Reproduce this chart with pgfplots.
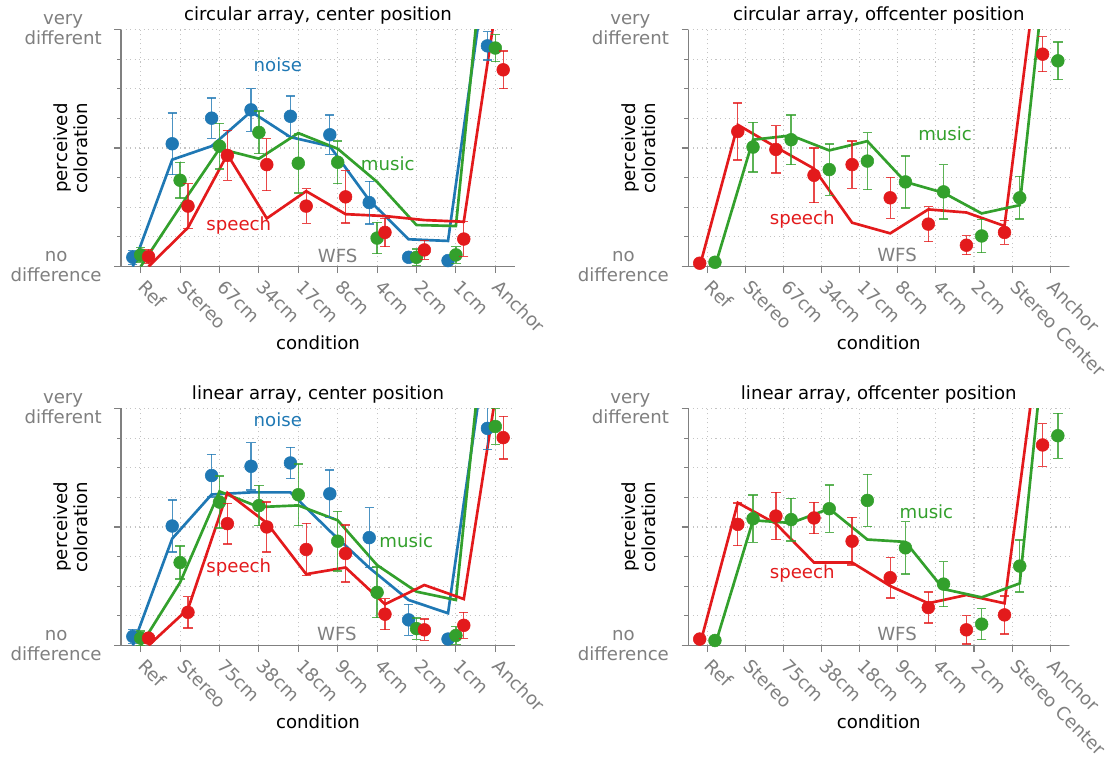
\documentclass[border=0pt]{standalone}
\usepackage{pgfplots}
\pgfplotsset{compat=1.18}
\usepackage{fontspec}
\setmainfont{DejaVu Sans}
\definecolor{cblue}{HTML}{1F78B4}
\definecolor{cgreen}{HTML}{33A02C}
\definecolor{cred}{HTML}{E31A1C}
\definecolor{axgray}{HTML}{808080}
\definecolor{txgray}{HTML}{7F7F7F}
\definecolor{grgray}{HTML}{C4C4C4}
\newcommand{\ff}{\fontsize{13.6pt}{15pt}\selectfont}
\pgfplotsset{
  panel/.style={
    scale only axis, height=177.75pt,
    xmin=-0.5, xmax=9.5, ymin=0, ymax=1,
    axis x line=bottom, axis y line=left,
    axis line style={-, draw=axgray, line width=1.1pt},
    xtick={0,...,9},
    ytick={0,0.5,1},
    minor ytick={0.125,0.25,0.375,0.625,0.75,0.875},
    yticklabels={{no\\difference},{},{very\\different}},
    grid=both,
    major grid style={dash pattern=on 0.8pt off 2.6pt, grgray, line width=0.8pt},
    minor grid style={dash pattern=on 0.8pt off 2.6pt, grgray, line width=0.8pt},
    tick align=outside, major tick length=5pt, minor tick length=3pt,
    every tick/.style={axgray, line width=0.8pt},
    tick label style={font=\ff, text=txgray},
    yticklabel style={align=center, xshift=-6pt},
    xticklabel style={rotate=-45, anchor=north west, xshift=2.9pt, yshift=3.9pt},
    xlabel={condition},
    xlabel style={font=\ff, at={(axis description cs:0.5,0)}, anchor=base, yshift=-62pt},
    ylabel={perceived\\coloration},
    ylabel style={font=\ff, align=center, at={(axis description cs:0,0.5)}, anchor=center, rotate=0, yshift=37.5pt},
    title style={font=\ff, at={(axis description cs:0.5,1)}, anchor=base, yshift=0.5pt},
    clip mode=individual,
  },
  pts/.style={only marks, mark=*, color=#1, mark size=4.8pt,
    error bars/.cd, y dir=both, y explicit,
    error bar style={line width=1pt, color=#1, opacity=0.8},
    error mark options={rotate=90, line width=1pt, mark size=3.5pt, color=#1, opacity=0.8}},
  ln/.style={color=#1, line width=2pt, no marks},
}
\begin{document}
\begin{tikzpicture}
\path[use as bounding box] (0,0) rectangle (829.5pt,568.5pt);
% ---------- panel 1
\begin{axis}[panel, at={(90.75pt,368.6pt)}, anchor=south west, width=295.5pt,
  title={circular array, center position},
  xticklabels={Ref,Stereo,67cm,34cm,17cm,8cm,4cm,2cm,1cm,Anchor}]
\addplot[ln=cblue] coordinates {(-0.2,0) (0.8,0.451) (1.8,0.508) (2.8,0.654) (3.8,0.546) (4.8,0.508) (5.8,0.28) (6.8,0.115) (7.8,0.108) (8.8,1.30)};
\addplot[ln=cgreen] coordinates {(0,0) (1,0.252) (2,0.497) (3,0.455) (4,0.563) (5,0.497) (6,0.357) (7,0.175) (8,0.171) (9,1.83)};
\addplot[ln=cred] coordinates {(0.2,0) (1.2,0.164) (2.2,0.473) (3.2,0.203) (4.2,0.318) (5.2,0.221) (6.2,0.213) (7.2,0.196) (8.2,0.189) (9.2,1.30)};
\addplot[pts=cblue] coordinates {(-0.2,0.039) +- (0,0.03) (0.8,0.518) +- (0,0.13) (1.8,0.626) +- (0,0.085) (2.8,0.661) +- (0,0.09) (3.8,0.634) +- (0,0.085) (4.8,0.556) +- (0,0.083) (5.8,0.270) +- (0,0.09) (6.8,0.039) +- (0,0.012) (7.8,0.025) +- (0,0.01) (8.8,0.931) +- (0,0.06)};
\addplot[pts=cgreen] coordinates {(0,0.049) +- (0,0.03) (1,0.364) +- (0,0.075) (2,0.508) +- (0,0.096) (3,0.566) +- (0,0.09) (4,0.436) +- (0,0.126) (5,0.44) +- (0,0.09) (6,0.12) +- (0,0.066) (7,0.039) +- (0,0.035) (8,0.049) +- (0,0.035) (9,0.922) +- (0,0.057)};
\addplot[pts=cred] coordinates {(0.2,0.042) +- (0,0.03) (1.2,0.255) +- (0,0.095) (2.2,0.469) +- (0,0.105) (3.2,0.43) +- (0,0.11) (4.2,0.255) +- (0,0.073) (5.2,0.294) +- (0,0.11) (6.2,0.144) +- (0,0.06) (7.2,0.07) +- (0,0.04) (8.2,0.116) +- (0,0.073) (9.2,0.83) +- (0,0.08)};
\node[font=\ff, text=cblue] at (axis cs:3.48,0.85) {noise};
\node[font=\ff, text=cgreen] at (axis cs:6.27,0.435) {music};
\node[font=\ff, text=cred] at (axis cs:2.49,0.173) {speech};
\node[font=\ff, text=txgray] at (axis cs:5.0,0.046) {WFS};
\end{axis}
% ---------- panel 2
\begin{axis}[panel, at={(516.2pt,368.6pt)}, anchor=south west, width=285.75pt,
  title={circular array, offcenter position},
  xticklabels={Ref,Stereo,67cm,34cm,17cm,8cm,4cm,2cm,Stereo Center,Anchor}]
\addplot[ln=cred] coordinates {(-0.2,0) (0.8,0.598) (1.8,0.504) (2.8,0.413) (3.8,0.185) (4.8,0.14) (5.8,0.241) (6.8,0.228) (7.8,0.171) (8.8,1.44)};
\addplot[ln=cgreen] coordinates {(0.2,0) (1.2,0.535) (2.2,0.553) (3.2,0.49) (4.2,0.529) (5.2,0.357) (6.2,0.311) (7.2,0.224) (8.2,0.259) (9.2,1.75)};
\addplot[pts=cred] coordinates {(-0.2,0.014) +- (0,0.0) (0.8,0.57) +- (0,0.12) (1.8,0.494) +- (0,0.10) (2.8,0.385) +- (0,0.115) (3.8,0.43) +- (0,0.10) (4.8,0.29) +- (0,0.086) (5.8,0.179) +- (0,0.074) (6.8,0.09) +- (0,0.04) (7.8,0.144) +- (0,0.05) (8.8,0.896) +- (0,0.074)};
\addplot[pts=cgreen] coordinates {(0.2,0.018) +- (0,0.0) (1.2,0.504) +- (0,0.105) (2.2,0.535) +- (0,0.105) (3.2,0.409) +- (0,0.108) (4.2,0.445) +- (0,0.12) (5.2,0.357) +- (0,0.11) (6.2,0.315) +- (0,0.115) (7.2,0.129) +- (0,0.07) (8.2,0.29) +- (0,0.09) (9.2,0.868) +- (0,0.08)};
\node[font=\ff, text=cgreen] at (axis cs:6.24,0.56) {music};
\node[font=\ff, text=cred] at (axis cs:2.49,0.2) {speech};
\node[font=\ff, text=txgray] at (axis cs:4.98,0.049) {WFS};
\end{axis}
% ---------- panel 3
\begin{axis}[panel, at={(90.75pt,84.4pt)}, anchor=south west, width=295.5pt,
  title={linear array, center position},
  xticklabels={Ref,Stereo,75cm,38cm,18cm,9cm,4cm,2cm,1cm,Anchor}]
\addplot[ln=cblue] coordinates {(-0.2,0) (0.8,0.451) (1.8,0.637) (2.8,0.646) (3.8,0.646) (4.8,0.483) (5.8,0.328) (6.8,0.192) (7.8,0.136) (8.8,1.295)};
\addplot[ln=cgreen] coordinates {(0,0) (1,0.266) (2,0.65) (3,0.584) (4,0.591) (5,0.528) (6,0.339) (7,0.227) (8,0.192) (9,1.81)};
\addplot[ln=cred] coordinates {(0.2,0) (1.2,0.154) (2.2,0.644) (3.2,0.517) (4.2,0.301) (5.2,0.329) (6.2,0.174) (7.2,0.255) (8.2,0.196) (9.2,1.26)};
\addplot[pts=cblue] coordinates {(-0.2,0.038) +- (0,0.03) (0.8,0.504) +- (0,0.11) (1.8,0.717) +- (0,0.09) (2.8,0.756) +- (0,0.1) (3.8,0.77) +- (0,0.066) (4.8,0.64) +- (0,0.1) (5.8,0.455) +- (0,0.126) (6.8,0.108) +- (0,0.065) (7.8,0.027) +- (0,0.01) (8.8,0.916) +- (0,0.09)};
\addplot[pts=cgreen] coordinates {(0,0.031) +- (0,0.03) (1,0.35) +- (0,0.07) (2,0.605) +- (0,0.11) (3,0.59) +- (0,0.085) (4,0.636) +- (0,0.13) (5,0.44) +- (0,0.126) (6,0.224) +- (0,0.107) (7,0.071) +- (0,0.045) (8,0.042) +- (0,0.037) (9,0.924) +- (0,0.075)};
\addplot[pts=cred] coordinates {(0.2,0.031) +- (0,0.02) (1.2,0.14) +- (0,0.066) (2.2,0.514) +- (0,0.086) (3.2,0.5) +- (0,0.105) (4.2,0.405) +- (0,0.11) (5.2,0.388) +- (0,0.12) (6.2,0.132) +- (0,0.065) (7.2,0.066) +- (0,0.045) (8.2,0.085) +- (0,0.055) (9.2,0.877) +- (0,0.09)};
\node[font=\ff, text=cblue] at (axis cs:3.48,0.951) {noise};
\node[font=\ff, text=cgreen] at (axis cs:6.74,0.44) {music};
\node[font=\ff, text=cred] at (axis cs:2.49,0.328) {speech};
\node[font=\ff, text=txgray] at (axis cs:4.98,0.049) {WFS};
\end{axis}
% ---------- panel 4
\begin{axis}[panel, at={(516.2pt,84.4pt)}, anchor=south west, width=285.75pt,
  title={linear array, offcenter position},
  xticklabels={Ref,Stereo,75cm,38cm,18cm,9cm,4cm,2cm,Stereo Center,Anchor}]
\addplot[ln=cred] coordinates {(-0.2,0) (0.8,0.602) (1.8,0.514) (2.8,0.35) (3.8,0.35) (4.8,0.251) (5.8,0.178) (6.8,0.213) (7.8,0.178) (8.8,1.40)};
\addplot[ln=cgreen] coordinates {(0.2,0) (1.2,0.528) (2.2,0.517) (3.2,0.577) (4.2,0.447) (5.2,0.437) (6.2,0.238) (7.2,0.203) (8.2,0.262) (9.2,1.84)};
\addplot[pts=cred] coordinates {(-0.2,0.027) +- (0,0.0) (0.8,0.511) +- (0,0.09) (1.8,0.546) +- (0,0.1) (2.8,0.538) +- (0,0.066) (3.8,0.44) +- (0,0.1) (4.8,0.286) +- (0,0.085) (5.8,0.16) +- (0,0.065) (6.8,0.066) +- (0,0.06) (7.8,0.129) +- (0,0.08) (8.8,0.846) +- (0,0.09)};
\addplot[pts=cgreen] coordinates {(0.2,0.021) +- (0,0.0) (1.2,0.535) +- (0,0.1) (2.2,0.531) +- (0,0.09) (3.2,0.577) +- (0,0.1) (4.2,0.612) +- (0,0.11) (5.2,0.412) +- (0,0.11) (6.2,0.259) +- (0,0.095) (7.2,0.09) +- (0,0.065) (8.2,0.335) +- (0,0.11) (9.2,0.885) +- (0,0.095)};
\node[font=\ff, text=cgreen] at (axis cs:5.75,0.563) {music};
\node[font=\ff, text=cred] at (axis cs:2.49,0.304) {speech};
\node[font=\ff, text=txgray] at (axis cs:4.98,0.049) {WFS};
\end{axis}
\end{tikzpicture}
\end{document}
